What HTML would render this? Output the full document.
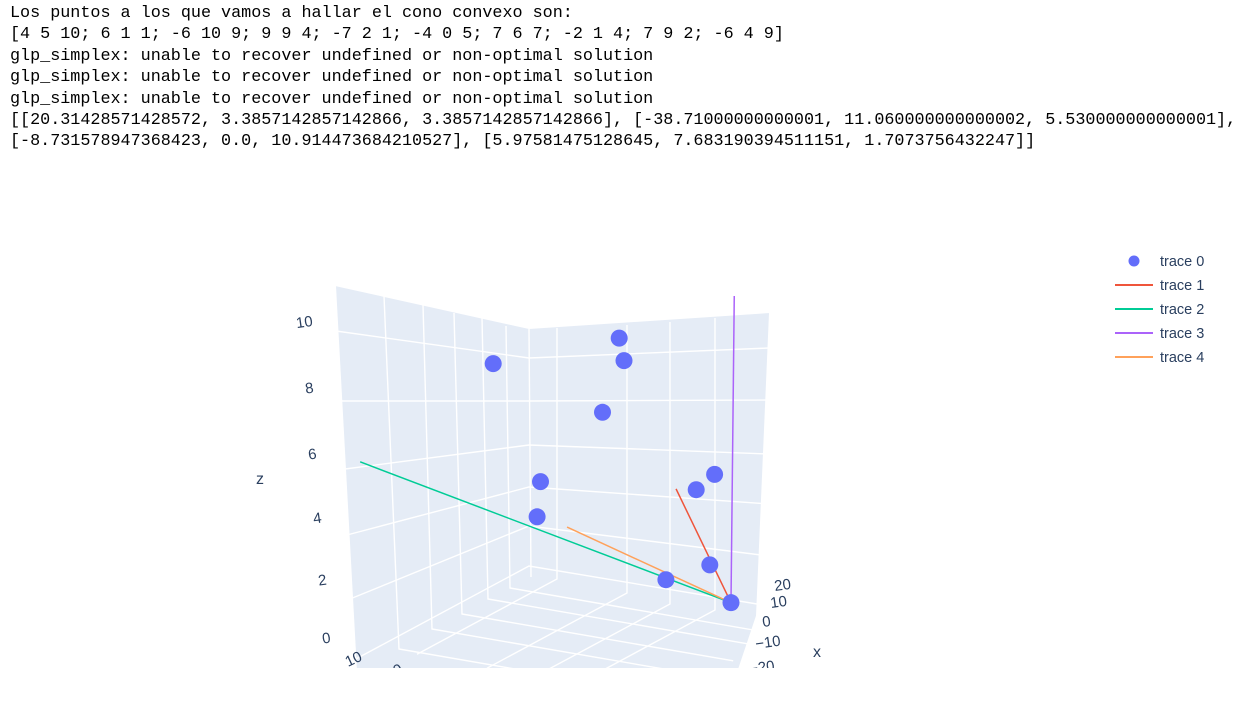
<!DOCTYPE html>
<html><head><meta charset="utf-8">
<style>
body{margin:0;background:#fff;width:1238px;height:706px;overflow:hidden;position:relative}
#out{position:absolute;left:10px;top:3px;font:16.8px/21.4px "Liberation Mono",monospace;color:#000;white-space:pre;margin:0;letter-spacing:-0.02px}
svg{position:absolute;left:0;top:0}
text{font-family:"Liberation Sans",sans-serif;fill:#2a3f5f}
</style></head><body>
<pre id="out">Los puntos a los que vamos a hallar el cono convexo son:
[4 5 10; 6 1 1; -6 10 9; 9 9 4; -7 2 1; -4 0 5; 7 6 7; -2 1 4; 7 9 2; -6 4 9]
glp_simplex: unable to recover undefined or non-optimal solution
glp_simplex: unable to recover undefined or non-optimal solution
glp_simplex: unable to recover undefined or non-optimal solution
[[20.31428571428572, 3.3857142857142866, 3.3857142857142866], [-38.71000000000001, 11.060000000000002, 5.530000000000001],
[-8.731578947368423, 0.0, 10.914473684210527], [5.97581475128645, 7.683190394511151, 1.7073756432247]]</pre>
<svg id="chart" width="1238" height="706">
<defs><clipPath id="clip"><rect x="0" y="200" width="1238" height="468"/></clipPath></defs>
<g id="scene" clip-path="url(#clip)"></g>
<g id="legend"></g>
</svg>
<script>
// point data (trace 0)
const px=[4,6,-6,9,-7,-4,7,-2,7,-6,0];
const py=[5,1,10,9,2,0,6,1,9,4,-0.44];
const pz=[10,1,9,4,1,5,7,4,2,9,-0.1];
// hull lines (traces 1-4): start point, common end point
const lineX=[0,0,0,0];
const lineY=[2.08,16.57,-0.59,7.08];
const lineZ=[3.95,5.62,13.64,1.93];
const endP=[0,-0.44,-0.1];
const lineColors=['#EF553B','#00cc96','#ab63fa','#FFA15A'];
const zTicks=[10,8,6,4,2,0];
const xTicks=['20','10','0','−10','−20'];
// perspective z scale (knots of the camera's vertical mapping)
const zKnot=[0,1,2,4,5,7,9,10];
const zScr=[600,571,520,487,470,417,352,340];
function gz(z){
  if(z<=zKnot[0]) return zScr[0]-(z-zKnot[0])*29;
  const n=zKnot.length-1;
  if(z>=zKnot[n]) return zScr[n]-(z-zKnot[n])*12;
  for(let i=0;i<n;i++) if(z<=zKnot[i+1]){const t=(z-zKnot[i])/(zKnot[i+1]-zKnot[i]);return zScr[i]+t*(zScr[i+1]-zScr[i]);}
}
function projX(x,y,z){return 624+1.7*(x+6)-21.8*(y-4);}
function projY(x,y,z){return -1.1*x+0.5*y+gz(z);}
const NS='http://www.w3.org/2000/svg';
const scene=document.getElementById('scene');
function mk(tag,attrs,parent){const e=document.createElementNS(NS,tag);for(const k in attrs)e.setAttribute(k,attrs[k]);(parent||scene).appendChild(e);return e;}
let p=mk('polygon',{points:'335,286 529,329 770,313 757,616 722,720 300,720 356,671',fill:'#e5ecf6'});


const G='#ffffff';
const zl=[331,401,469,535,599,660],zb=[358,401,445,487,526,566],zr=[348,400,454,504,556,606];
const zlx=[336,339,345,347,350,354];
for(let i=0;i<6;i++){
  let l=mk('polyline',{points:`${zlx[i]},${zl[i]} 529,${zb[i]} 769,${zr[i]}`,fill:'none',stroke:G,'stroke-width':1.4});
  
  
}
const yt=[[384,296],[423,305],[454,313],[482,318],[506,326]],yb=[[399,649],[432,629],[462,614],[488,599],[510,588]];
for(let i=0;i<5;i++){
  let l=mk('polyline',{points:`${yt[i][0]},${yt[i][1]} ${yb[i][0]},${yb[i][1]} ${yb[i][0]+226*1.2},${yb[i][1]+39*1.2}`,fill:'none',stroke:G,'stroke-width':1.4});
  
  
}
const xt=[[557,328,579],[627,325,593],[670,322,604],[715,318,610]];
for(const t of xt){
  let l=mk('polyline',{points:`${t[0]},${t[1]} ${t[0]},${t[2]} ${t[0]-175*0.8},${t[2]+94*0.8}`,fill:'none',stroke:G,'stroke-width':1.4});
  
  
}
let e=mk('polyline',{points:'335,286 356,671',fill:'none',stroke:G,'stroke-width':2});


e=mk('polyline',{points:'770,313 757,616 722,720',fill:'none',stroke:G,'stroke-width':2});


e=mk('polyline',{points:'529,329 531,577',fill:'none',stroke:G,'stroke-width':1.4});


const zlab=[[305,327],[310,393],[313,459],[318,523],[323,585],[327,643]];
zTicks.forEach((t,i)=>{let tx=mk('text',{x:zlab[i][0],y:zlab[i][1],'font-size':15,'text-anchor':'middle',transform:`rotate(-8 ${zlab[i][0]} ${zlab[i][1]})`});tx.textContent=t;

});
let zt=mk('text',{x:260,y:484,'font-size':16,'text-anchor':'middle'});zt.textContent='z';


const xlab=[[775,591],[771,608],[763,627],[756,649],[750,674]];
xTicks.forEach((t,i)=>{let tx=mk('text',{x:xlab[i][0],y:xlab[i][1],'font-size':15,transform:`rotate(-8 ${xlab[i][0]} ${xlab[i][1]})`});tx.textContent=t;

});
let xtt=mk('text',{x:813,y:657,'font-size':16});xtt.textContent='x';


let yl=mk('text',{x:348,y:667,'font-size':15,transform:'rotate(-25 348 667)'});yl.textContent='10';


yl=mk('text',{x:396,y:676,'font-size':15,transform:'rotate(-25 396 676)'});yl.textContent='0';


const ex=projX(endP[0],endP[1],endP[2]),ey=projY(endP[0],endP[1],endP[2]);
for(let i=0;i<lineX.length;i++){
  let l=mk('line',{x1:projX(lineX[i],lineY[i],lineZ[i]),y1:projY(lineX[i],lineY[i],lineZ[i]),x2:ex,y2:ey,stroke:lineColors[i],'stroke-width':1.5});
  
  
}
for(let i=0;i<px.length;i++){
  let c=mk('circle',{cx:projX(px[i],py[i],pz[i]),cy:projY(px[i],py[i],pz[i]),r:8.5,fill:'#636efa'});
  
  
}
const lg=document.getElementById('legend');
const names=['trace 0','trace 1','trace 2','trace 3','trace 4'];
names.forEach((n,i)=>{
  const y=261+i*24;
  const g=document.createElementNS(NS,'g');lg.appendChild(g);
  
  
  if(i===0){mk('circle',{cx:1134,cy:y,r:5.5,fill:'#636efa'},g);}
  else mk('line',{x1:1115,y1:y,x2:1153,y2:y,stroke:lineColors[i-1],'stroke-width':2},g);
  const t=mk('text',{x:1160,y:y+5,'font-size':14.5},g);t.textContent=n;
});
</script>
</body></html>
